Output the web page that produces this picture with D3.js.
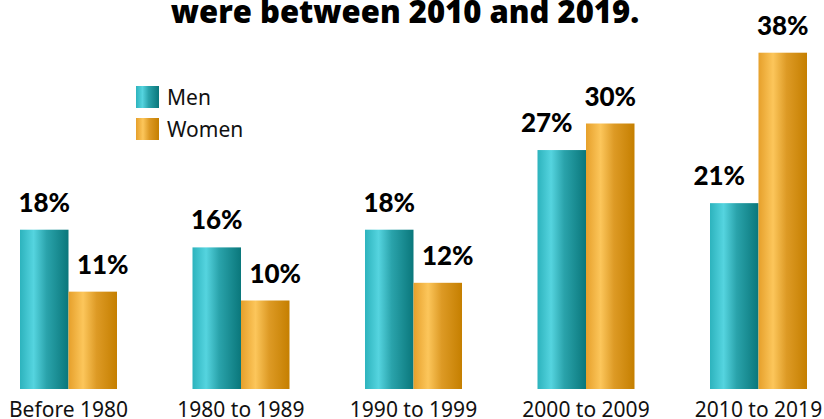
<!DOCTYPE html>
<html lang="en">
<head>
<meta charset="UTF-8">
<script src="https://d3js.org/d3.v7.min.js"></script>
<title>men_women_bars</title>
<style>
  body { margin: 0; background: #fff; }
  svg { display: block; }
</style>
</head>
<body>
<script>
  var w = 824, h = 419;
  var categories = ["Before 1980", "1980 to 1989", "1990 to 1999", "2000 to 2009", "2010 to 2019"];
  var men = [18, 16, 18, 27, 21];
  var women = [11, 10, 12, 30, 38];
  var seriesNames = ["Men", "Women"];

  var svg = d3.select("body").append("svg").attr("width", w).attr("height", h);

  // gradients
  var defs = svg.append("defs");
  function grad(id, stops) {
    var g = defs.append("linearGradient").attr("id", id)
      .attr("x1", "0%").attr("x2", "100%").attr("y1", "0%").attr("y2", "0%");
    stops.forEach(function (s) {
      g.append("stop").attr("offset", s[0]).attr("stop-color", s[1]);
    });
  }
  grad("teal", [["0%", "#2db3bd"], ["28%", "#55d4df"], ["55%", "#2aa3ab"], ["100%", "#0a777b"]]);
  grad("gold", [["0%", "#e6a02b"], ["30%", "#fcc65b"], ["58%", "#dd9a25"], ["100%", "#c57f00"]]);
  var fills = ["url(#teal)", "url(#gold)"];

  var x = d3.scaleBand().domain(categories).range([20, 807]).paddingInner(0.4377).paddingOuter(0);
  var xs = d3.scaleBand().domain(seriesNames).range([0, x.bandwidth()]);
  var y = d3.scaleLinear().domain([0, 40]).range([389, 35]);

  // title (first line is outside the frame)
  svg.append("text")
    .attr("x", 405).attr("y", 23)
    .attr("text-anchor", "middle")
    .style("font-family", "'Open Sans', sans-serif")
    .style("font-weight", 800)
    .style("font-size", "31px")
    .text("were between 2010 and 2019.");

  var rows = categories.map(function (c, i) {
    return { cat: c, vals: [men[i], women[i]] };
  });

  var groups = svg.selectAll("g.grp").data(rows).enter().append("g")
    .attr("class", "grp")
    .attr("transform", function (d) { return "translate(" + x(d.cat) + ",0)"; });

  groups.selectAll("rect").data(function (d) { return d.vals; }).enter().append("rect")
    .attr("x", function (d, i) { return xs(seriesNames[i]); })
    .attr("width", xs.bandwidth())
    .attr("y", function (d) { return y(d); })
    .attr("height", function (d) { return y(0) - y(d); })
    .attr("fill", function (d, i) { return fills[i]; });

  // value labels; the shorter bar's label is nudged outward
  groups.selectAll("text.val").data(function (d) {
    return d.vals.map(function (v, i) { return { v: v, i: i, other: d.vals[1 - i] }; });
  }).enter().append("text")
    .attr("class", "val")
    .attr("x", function (d) {
      var cx = xs(seriesNames[d.i]) + xs.bandwidth() / 2;
      if (d.v < d.other) cx += d.i === 0 ? -15 : 10;
      return cx;
    })
    .attr("y", function (d) { return y(d.v) - 18; })
    .attr("text-anchor", "middle")
    .style("font-family", "Lato, sans-serif")
    .style("font-weight", 900)
    .style("font-size", "26px")
    .text(function (d) { return d.v + "%"; });

  // category labels
  svg.selectAll("text.cat").data(categories).enter().append("text")
    .attr("class", "cat")
    .attr("x", function (d) { return x(d) + x.bandwidth() / 2; })
    .attr("y", 417)
    .attr("text-anchor", "middle")
    .style("font-family", "'Noto Sans', sans-serif")
    .style("font-size", "21px")
    .attr("fill", "#111")
    .text(function (d) { return d; });

  // legend
  var legend = svg.selectAll("g.leg").data(seriesNames).enter().append("g")
    .attr("class", "leg")
    .attr("transform", function (d, i) { return "translate(136," + (86 + i * 32) + ")"; });
  legend.append("rect").attr("width", 23).attr("height", 22)
    .attr("fill", function (d, i) { return fills[i]; });
  legend.append("text").attr("x", 31).attr("y", 19)
    .style("font-family", "'Noto Sans', sans-serif")
    .style("font-size", "21px")
    .attr("fill", "#111")
    .text(function (d) { return d; });
</script>
</body>
</html>
